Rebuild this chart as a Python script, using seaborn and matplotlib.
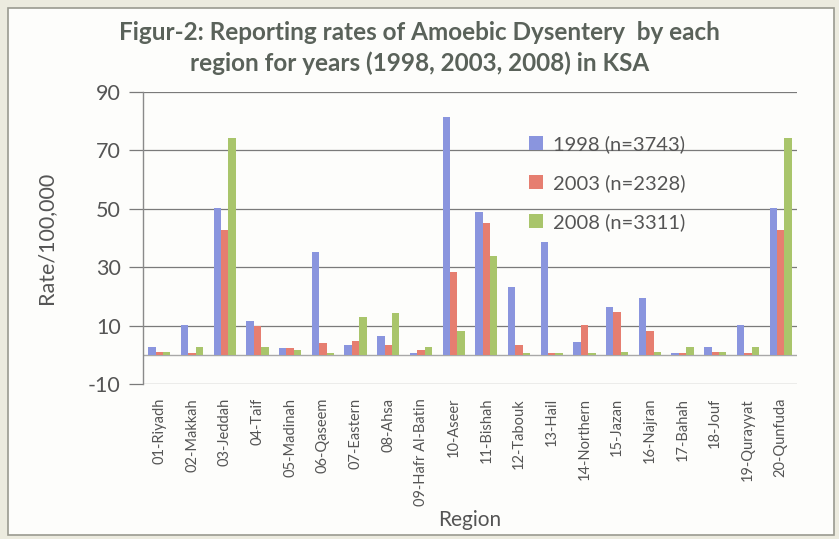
import matplotlib
matplotlib.use("Agg")
import matplotlib.pyplot as plt
from matplotlib.patches import Rectangle
import seaborn as sns
import pandas as pd

regions = ["01-Riyadh", "02-Makkah", "03-Jeddah", "04-Taif", "05-Madinah",
           "06-Qaseem", "07-Eastern", "08-Ahsa", "09-Hafr Al-Batin", "10-Aseer",
           "11-Bishah", "12-Tabouk", "13-Hail", "14-Northern", "15-Jazan",
           "16-Najran", "17-Bahah", "18-Jouf", "19-Qurayyat", "20-Qunfuda"]
rate_1998 = [2.8, 10.3, 50.4, 11.6, 2.3, 35.2, 3.4, 6.6, 0.6, 81.4,
             48.9, 23.2, 38.6, 4.3, 16.5, 19.4, 0.6, 2.8, 10.3, 50.4]
rate_2003 = [1.1, 0.6, 42.8, 10.0, 2.3, 4.0, 4.6, 3.4, 1.7, 28.5,
             45.1, 3.4, 0.6, 10.3, 14.8, 8.3, 0.6, 1.1, 0.6, 42.8]
rate_2008 = [1.1, 2.8, 74.2, 2.8, 1.7, 0.6, 13.1, 14.3, 2.8, 8.2,
             33.7, 0.6, 0.6, 0.6, 1.1, 1.1, 2.8, 1.1, 2.8, 74.2]
series_labels = ["1998 (n=3743)", "2003 (n=2328)", "2008 (n=3311)"]
y_ticks = [-10, 10, 30, 50, 70, 90]

df = pd.concat([
    pd.DataFrame({"Region": regions, "Rate": vals, "Year": lab})
    for vals, lab in zip([rate_1998, rate_2003, rate_2008], series_labels)
])

sns.set_theme(style="white")
plt.rcParams["font.family"] = ["Lato", "DejaVu Sans"]
plt.rcParams["axes.unicode_minus"] = False

fig = plt.figure(figsize=(8.39, 5.39), dpi=100)
fig.patch.set_facecolor("#ecebdf")
frame = Rectangle((8 / 839, 4 / 539), 826 / 839, 527 / 539,
                  transform=fig.transFigure, facecolor="#fdfdfb",
                  edgecolor="#9a9a90", linewidth=1.2, zorder=-10)
fig.add_artist(frame)

ax = fig.add_axes([143 / 839, 1 - 384 / 539, 654 / 839, 292 / 539])
ax.set_zorder(5)
ax.set_facecolor("none")

palette = ["#8a95de", "#e67e70", "#a9c56b"]
sns.barplot(data=df, x="Region", y="Rate", hue="Year", palette=palette,
            width=0.68, ax=ax, saturation=1, legend=True, linewidth=0,
            zorder=3)

ax.set_ylim(-10, 90)
ax.set_yticks(y_ticks)
ax.set_xlim(-0.5, len(regions) - 0.5)
ax.yaxis.grid(True, color="#7a7a7a", linewidth=0.9)
ax.set_axisbelow(True)
ax.axhline(0, color="#a8a8a8", linewidth=1.0, zorder=2)

for side in ["top", "right", "bottom"]:
    ax.spines[side].set_visible(False)
ax.spines["left"].set_color("#8a8a8a")
ax.spines["left"].set_linewidth(1.0)

ax.tick_params(axis="y", which="both", left=True, length=10, width=0.9,
               color="#7a7a7a", labelsize=15.5, labelcolor="#555555", pad=6)
ax.tick_params(axis="x", bottom=False, labelsize=10.5, labelcolor="#555555",
               pad=4)
plt.setp(ax.get_xticklabels(), rotation=90)

ax.set_xlabel("Region", fontsize=15, color="#555555", labelpad=3)
ax.set_ylabel("Rate/100,000", fontsize=15.5, color="#555555", labelpad=23)

leg = ax.legend(loc="upper left", bbox_to_anchor=(0.562, 0.915), frameon=False,
                fontsize=14.5, labelspacing=1.05, handlelength=0.7,
                handleheight=0.7, handletextpad=0.5)
for t in leg.get_texts():
    t.set_color("#555555")

fig.text(0.5, 1 - 33 / 539,
         "Figur-2: Reporting rates of Amoebic Dysentery  by each",
         ha="center", va="center", fontsize=17.5, fontweight="bold",
         color="#5a625a")
fig.text(0.5, 1 - 63 / 539,
         "region for years (1998, 2003, 2008) in KSA",
         ha="center", va="center", fontsize=17.5, fontweight="bold",
         color="#5a625a")

fig.savefig("out.png", dpi=100, facecolor=fig.get_facecolor())
